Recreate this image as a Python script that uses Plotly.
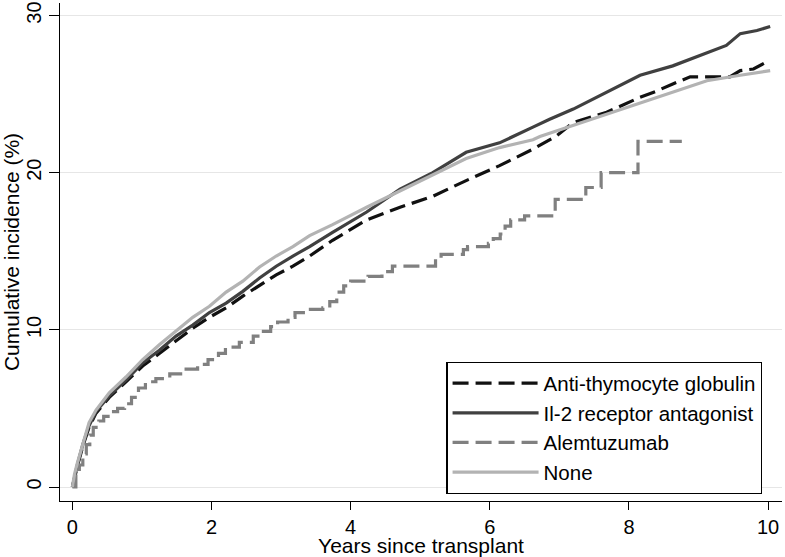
import plotly.graph_objects as go

# Anti-thymocyte globulin
atg_t = [0, 0.03, 0.07, 0.15, 0.24, 0.34, 0.53, 0.77, 1.01, 1.25, 1.49, 1.73, 1.97, 2.21, 2.45, 2.69, 2.93, 3.17, 3.41, 3.74, 4.23, 4.71, 5.18, 5.66, 6.14, 6.62, 6.96, 7.2, 7.68, 8.16, 8.4, 8.63, 8.88, 9.45, 9.6, 9.79, 9.98]
atg_v = [0, 0.6, 1.3, 2.6, 3.8, 4.7, 5.7, 6.7, 7.7, 8.5, 9.3, 10.1, 10.8, 11.4, 12.15, 12.8, 13.5, 14.05, 14.7, 15.7, 17.0, 17.8, 18.5, 19.5, 20.45, 21.5, 22.35, 23.2, 23.85, 24.8, 25.2, 25.65, 26.1, 26.1, 26.5, 26.6, 27.05]

# Il-2 receptor antagonist
il2_t = [0, 0.03, 0.07, 0.15, 0.24, 0.34, 0.53, 0.77, 1.01, 1.25, 1.49, 1.73, 1.97, 2.21, 2.45, 2.69, 2.93, 3.17, 3.41, 3.74, 4.23, 4.71, 5.18, 5.66, 6.14, 6.62, 6.86, 7.2, 7.68, 8.16, 8.63, 9.12, 9.4, 9.6, 9.84, 10.03]
il2_v = [0, 0.7, 1.4, 2.7, 3.9, 4.8, 5.8, 6.8, 7.9, 8.7, 9.6, 10.3, 11.1, 11.7, 12.45, 13.3, 14.05, 14.7, 15.3, 16.2, 17.5, 18.95, 20.0, 21.3, 21.9, 22.9, 23.4, 24.05, 25.1, 26.2, 26.8, 27.6, 28.1, 28.85, 29.05, 29.3]

# Alemtuzumab (step function)
alem_t = [0, 0.05, 0.1, 0.15, 0.2, 0.25, 0.3, 0.38, 0.45, 0.55, 0.65, 0.75, 0.85, 0.95, 1.05, 1.2, 1.4, 1.6, 1.8, 1.95, 2.1, 2.2, 2.4, 2.6, 2.7, 2.85, 2.95, 3.1, 3.2, 3.35, 3.6, 3.7, 3.8, 3.9, 4.0, 4.25, 4.45, 4.6, 5.22, 5.3, 5.62, 5.68, 5.98, 6.05, 6.15, 6.22, 6.3, 6.5, 6.94, 7.38, 7.6, 8.13, 8.76]
alem_v = [0, 0.8, 1.4, 2.1, 2.7, 3.3, 3.8, 4.2, 4.5, 4.8, 5.0, 5.3, 5.7, 6.3, 6.7, 6.9, 7.2, 7.5, 7.8, 8.1, 8.5, 8.9, 9.2, 9.6, 9.9, 10.2, 10.5, 10.8, 11.1, 11.3, 11.4, 11.8, 12.4, 12.8, 13.1, 13.4, 13.7, 14.06, 14.5, 14.8, 15.1, 15.3, 15.5, 15.8, 16.1, 16.6, 17.0, 17.25, 18.3, 19.06, 20.0, 22.0, 22.0]

# None
none_t = [0, 0.03, 0.07, 0.15, 0.24, 0.34, 0.53, 0.77, 1.01, 1.25, 1.49, 1.73, 1.97, 2.21, 2.45, 2.69, 2.93, 3.17, 3.41, 3.74, 4.23, 4.71, 5.18, 5.66, 6.14, 6.62, 6.72, 7.2, 7.68, 8.16, 8.63, 9.12, 9.6, 10.03]
none_v = [0, 0.8, 1.5, 2.8, 4.1, 4.9, 6.0, 7.0, 8.1, 9.05, 9.9, 10.8, 11.5, 12.4, 13.1, 14.0, 14.7, 15.3, 16.0, 16.7, 17.8, 18.85, 19.9, 20.9, 21.6, 22.1, 22.3, 23.0, 23.7, 24.4, 25.1, 25.85, 26.2, 26.5]

x_ticks = [0, 2, 4, 6, 8, 10]
y_ticks = [0, 10, 20, 30]

FONT = "Liberation Sans, Arial, sans-serif"

fig = go.Figure()
fig.add_trace(go.Scatter(x=atg_t, y=atg_v, mode="lines", name="Anti-thymocyte globulin",
                         line=dict(color="#111111", width=3.2, dash="16px,7px")))
fig.add_trace(go.Scatter(x=il2_t, y=il2_v, mode="lines", name="Il-2 receptor antagonist",
                         line=dict(color="#404040", width=3.2)))
fig.add_trace(go.Scatter(x=alem_t, y=alem_v, mode="lines", name="Alemtuzumab", line_shape="hv",
                         line=dict(color="#808080", width=3.2, dash="16px,7px")))
fig.add_trace(go.Scatter(x=none_t, y=none_v, mode="lines", name="None",
                         line=dict(color="#b3b3b3", width=3.2)))

fig.update_layout(
    width=785, height=557,
    margin=dict(l=60, r=3, t=3, b=56),
    paper_bgcolor="white", plot_bgcolor="white",
    font=dict(family=FONT, size=20, color="black"),
    showlegend=True,
    legend=dict(x=0.535, y=0.014, xanchor="left", yanchor="bottom",
                bordercolor="black", borderwidth=1.3, bgcolor="white",
                font=dict(size=20.5), itemwidth=86, tracegroupgap=0,
                traceorder="normal"),
    xaxis=dict(range=[-0.178, 10.2], tickvals=x_ticks, ticktext=[str(v) for v in x_ticks],
               showgrid=False, zeroline=False, showline=True, linecolor="black", linewidth=1.3,
               ticks="outside", ticklen=8, tickwidth=1.3, tickcolor="black",
               automargin=False,
               title=dict(text="Years since transplant", standoff=2, font=dict(size=21)),
               tickfont=dict(size=20)),
    yaxis=dict(range=[-0.89, 30.8], tickvals=y_ticks, ticktext=[str(v) for v in y_ticks],
               showgrid=True, gridcolor="#e6e6e6", gridwidth=1, zeroline=False,
               showline=True, linecolor="black", linewidth=1.3,
               ticks="outside", ticklen=10, tickwidth=1.3, tickcolor="black",
               tickangle=-90, tickfont=dict(size=20), automargin=False,
               title=dict(text="Cumulative incidence (%)", standoff=2, font=dict(size=21))),
)

fig.write_html("out.html", config={"displayModeBar": False},
               post_script="document.body.style.margin='0';document.body.style.overflow='hidden';")
